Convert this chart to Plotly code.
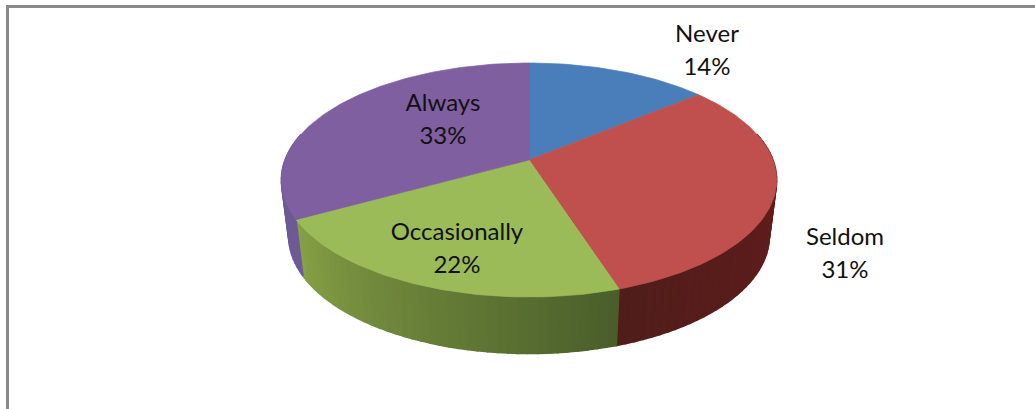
import math
import plotly.graph_objects as go

categories = ["Never", "Seldom", "Occasionally", "Always"]
values = [14, 31, 22, 33]
top_colors = ["#4a7ebb", "#c0504d", "#9bbb59", "#7f5fa0"]
# wall colours at the clockwise start and end of each slice
wall_start = [(74, 110, 170), (112, 30, 30), (74, 94, 42), (110, 90, 150)]
wall_end = [(74, 110, 170), (80, 29, 26), (134, 160, 70), (104, 86, 146)]
label_pos = [(707, 52), (845, 255.5), (457, 250), (443, 121)]

CX, CY, A, B, K = 529, 160, 113.6, 244, 0.171
DROP, SHRINK = 56.5, 0.97
LINE_GAP = 16.5


def top(t):
    u, v = math.sin(t), -math.cos(t)
    w = 1 - K * v
    return CX + B * u / w, CY + A * v / w


def bottom(t):
    x, y = top(t)
    return CX + (x - CX) * SHRINK, y + DROP


def mix(a, b, f):
    return "rgb(%d,%d,%d)" % tuple(round(p + (q - p) * f) for p, q in zip(a, b))


fig = go.Figure()
total = sum(values)
edges = [0]
for val in values:
    edges.append(edges[-1] + val / total * 2 * math.pi)


def add_poly(xs, ys, color, width=0.7):
    fig.add_trace(go.Scatter(x=xs, y=ys, mode="lines", fill="toself", fillcolor=color,
                             line=dict(color=color, width=width), hoverinfo="skip", showlegend=False))


# side wall
for i in range(len(values)):
    n = max(4, round((edges[i + 1] - edges[i]) / 0.035))
    for j in range(n):
        t0 = edges[i] + (edges[i + 1] - edges[i]) * j / n
        t1 = edges[i] + (edges[i + 1] - edges[i]) * (j + 1) / n
        if -math.cos((t0 + t1) / 2) < -0.25:
            continue
        a0, a1 = top(t0), top(t1)
        b0, b1 = bottom(t0), bottom(t1)
        add_poly([a0[0], a1[0], b1[0], b0[0], a0[0]], [a0[1], a1[1], b1[1], b0[1], a0[1]],
                 mix(wall_start[i], wall_end[i], j / max(n - 1, 1)), width=1.5)

# top face
for i in range(len(values)):
    n = max(8, round((edges[i + 1] - edges[i]) / 0.02))
    pts = [top(edges[i] + (edges[i + 1] - edges[i]) * j / n) for j in range(n + 1)]
    xs = [CX] + [p[0] for p in pts] + [CX]
    ys = [CY] + [p[1] for p in pts] + [CY]
    add_poly(xs, ys, top_colors[i])

label_x, label_y, label_text = [], [], []
for (px, py), c, v in zip(label_pos, categories, values):
    label_x += [px, px]
    label_y += [py - LINE_GAP, py + LINE_GAP]
    label_text += [c, f"{v}%"]
fig.add_trace(go.Scatter(
    x=label_x, y=label_y, mode="text", text=label_text,
    textposition="middle center",
    textfont=dict(family="Lato", size=24, color="#111111"),
    hoverinfo="skip", showlegend=False))

frame = dict(color="#8a8a8a", width=3)
fig.update_layout(
    width=1035, height=409, margin=dict(l=0, r=0, t=0, b=0),
    paper_bgcolor="white", plot_bgcolor="white", showlegend=False,
    xaxis=dict(range=[0, 1035], visible=False, fixedrange=True),
    yaxis=dict(range=[409, 0], visible=False, fixedrange=True),
    shapes=[
        dict(type="line", xref="x", yref="y", x0=6, x1=1035, y0=6.5, y1=6.5, line=frame),
        dict(type="line", xref="x", yref="y", x0=7.5, x1=7.5, y0=5, y1=409, line=frame),
    ],
)
fig.write_html("out.html", config={"displayModeBar": False},
               post_script="document.body.style.margin='0';document.documentElement.style.overflow='hidden';")
